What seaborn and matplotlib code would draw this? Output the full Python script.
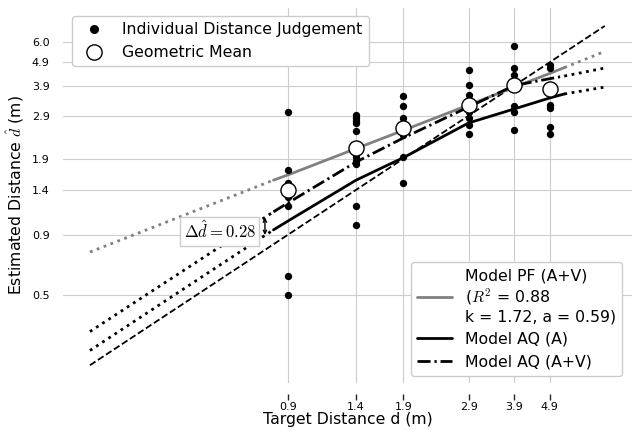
import matplotlib
matplotlib.use("Agg")
import matplotlib.pyplot as plt
import numpy as np
import pandas as pd
import seaborn as sns
from matplotlib.ticker import FixedLocator, FixedFormatter, NullLocator
from matplotlib.lines import Line2D

sns.set_style("whitegrid")
plt.rcParams["font.family"] = ["DejaVu Sans"]
plt.rcParams["mathtext.fontset"] = "cm"
plt.rcParams["text.color"] = "black"
plt.rcParams["axes.labelcolor"] = "black"
plt.rcParams["xtick.color"] = "black"
plt.rcParams["ytick.color"] = "black"

# ---------------- data ----------------
target_levels = [0.9, 1.4, 1.9, 2.9, 3.9, 4.9]
target_labels = ["0.9", "1.4", "1.9", "2.9", "3.9", "4.9"]
y_ticks = [0.5, 0.9, 1.4, 1.9, 2.9, 3.9, 4.9, 6.0]
y_tick_labels = ["0.5", "0.9", "1.4", "1.9", "2.9", "3.9", "4.9", "6.0"]

judg_09 = [3.0, 1.7, 1.5, 1.3, 1.2, 0.6, 0.5]
judg_14 = [2.92, 2.84, 2.75, 2.70, 2.50, 1.93, 1.86, 1.81, 1.20, 0.99]
judg_19 = [3.52, 3.19, 2.84, 2.62, 2.40, 1.93, 1.50]
judg_29 = [4.54, 3.92, 3.55, 3.0, 2.84, 2.65, 2.42]
judg_39 = [5.74, 4.63, 4.32, 3.19, 3.0, 2.52]
judg_49 = [4.77, 4.63, 3.22, 3.13, 2.60, 2.42]

geo_mean = [1.40, 2.11, 2.57, 3.22, 3.92, 3.77]

# model curves
model_x = [0.25, 0.82, 0.9, 1.4, 1.9, 2.9, 3.9, 4.9, 5.39, 7.0]
pf_y = [0.76, 1.54, 1.62, 2.10, 2.51, 3.22, 3.84, 4.39, 4.65, 5.45]
aq_a_y = [0.289, 0.945, 1.03, 1.54, 1.92, 2.70, 3.10, 3.45, 3.59, 3.84]
aq_av_y = [0.348, 1.128, 1.23, 1.84, 2.33, 3.16, 3.90, 4.17, 4.28, 4.63]
fit_range = (0.82, 5.39)
identity_x = [0.25, 7.0]
identity_y = [0.25, 7.0]

# annotation
delta_x = 0.776
delta_top = 1.068
delta_bottom = 0.898
delta_text = r"$\Delta\hat{d} = 0.28$"
delta_text_pos = (0.58, 0.932)

lims = (0.21, 8.35)

# ---------------- figure ----------------
fig = plt.figure(figsize=(6.32, 4.30), dpi=100)
ax = fig.add_axes([63 / 632, 1 - 383 / 430, 569 / 632, 375 / 430])
ax.set_xscale("log")
ax.set_yscale("log")

judgements = [judg_09, judg_14, judg_19, judg_29, judg_39, judg_49]
df = pd.DataFrame(
    [(t, v) for t, vals in zip(target_levels, judgements) for v in vals],
    columns=["target", "judgement"],
)

# identity
sns.lineplot(x=identity_x, y=identity_y, ax=ax, color="black", lw=1.3,
             linestyle="--", estimator=None, sort=False, zorder=2)

DASHDOT = (0, (4.7, 1.4, 0.8, 1.4))


def draw_model(y, color, ls, lw, label):
    x = np.array(model_x)
    y = np.array(y)
    lo, hi = fit_range
    m_in = (x >= lo - 1e-9) & (x <= hi + 1e-9)
    m_lo = x <= lo + 1e-9
    m_hi = x >= hi - 1e-9
    sns.lineplot(x=x[m_lo], y=y[m_lo], ax=ax, color=color, lw=2,
                 linestyle=":", estimator=None, sort=False, zorder=2)
    sns.lineplot(x=x[m_hi], y=y[m_hi], ax=ax, color=color, lw=2,
                 linestyle=":", estimator=None, sort=False, zorder=2)
    sns.lineplot(x=x[m_in], y=y[m_in], ax=ax, color=color, lw=lw,
                 linestyle=ls, estimator=None, sort=False, zorder=3)
    return Line2D([], [], color=color, lw=lw, linestyle=ls, label=label)


h_pf = draw_model(pf_y, "#808080", "-", 2.0,
                  "Model PF (A+V)\n($R^2$ = 0.88\nk = 1.72, a = 0.59)")
h_a = draw_model(aq_a_y, "black", "-", 2.0, "Model AQ (A)")
h_av = draw_model(aq_av_y, "black", DASHDOT, 2.0, "Model AQ (A+V)")

sns.scatterplot(data=df, x="target", y="judgement", ax=ax, color="black",
                s=28, linewidth=0, zorder=4)
sns.scatterplot(x=target_levels, y=geo_mean, ax=ax, color="white",
                edgecolor="black", s=118, linewidth=1.0, zorder=5)

h_ind = Line2D([], [], color="black", marker="o", linestyle="none",
               markersize=5.5, label="Individual Distance Judgement")
h_gm = Line2D([], [], markerfacecolor="white", markeredgecolor="black",
              marker="o", linestyle="none", markersize=11,
              markeredgewidth=1.0, label="Geometric Mean")

# annotation
ax.annotate("", xy=(delta_x, delta_bottom), xytext=(delta_x, delta_top),
            arrowprops=dict(arrowstyle="<->", color="black", lw=1,
                            shrinkA=0, shrinkB=0, mutation_scale=6),
            zorder=6)
ax.text(delta_text_pos[0], delta_text_pos[1], delta_text, ha="center",
        va="center", fontsize=12,
        bbox=dict(boxstyle="square,pad=0.2", fc="white", ec="0.8", lw=1),
        zorder=6)

ax.set_xlim(*lims)
ax.set_ylim(*lims)

ax.xaxis.set_major_locator(FixedLocator(target_levels))
ax.xaxis.set_major_formatter(FixedFormatter(target_labels))
ax.yaxis.set_major_locator(FixedLocator(y_ticks))
ax.yaxis.set_major_formatter(FixedFormatter(y_tick_labels))
ax.xaxis.set_minor_locator(NullLocator())
ax.yaxis.set_minor_locator(NullLocator())

for s in ax.spines.values():
    s.set_visible(False)
ax.spines["bottom"].set_position(("outward", 8))
ax.tick_params(axis="x", which="major", bottom=True, length=4, width=1,
               color="0.15", pad=1.5, labelsize=8)
ax.tick_params(axis="y", which="major", left=False, pad=6, labelsize=8)

ax.set_xlabel("Target Distance d (m)", fontsize=11.3, labelpad=0)
ax.set_ylabel(r"Estimated Distance $\hat{d}$ (m)", fontsize=11.3)

leg1 = ax.legend(handles=[h_ind, h_gm], loc="upper left",
                 bbox_to_anchor=(0.0158, 0.9787), borderaxespad=0,
                 fontsize=11.3, frameon=True, framealpha=1, edgecolor="0.8")
ax.add_artist(leg1)
ax.legend(handles=[h_pf, h_a, h_av], loc="lower right",
          bbox_to_anchor=(0.9824, 0.0187), borderaxespad=0,
          fontsize=11.3, handlelength=2.2, frameon=True, framealpha=1,
          edgecolor="0.8")

fig.savefig("out.png", dpi=100)
